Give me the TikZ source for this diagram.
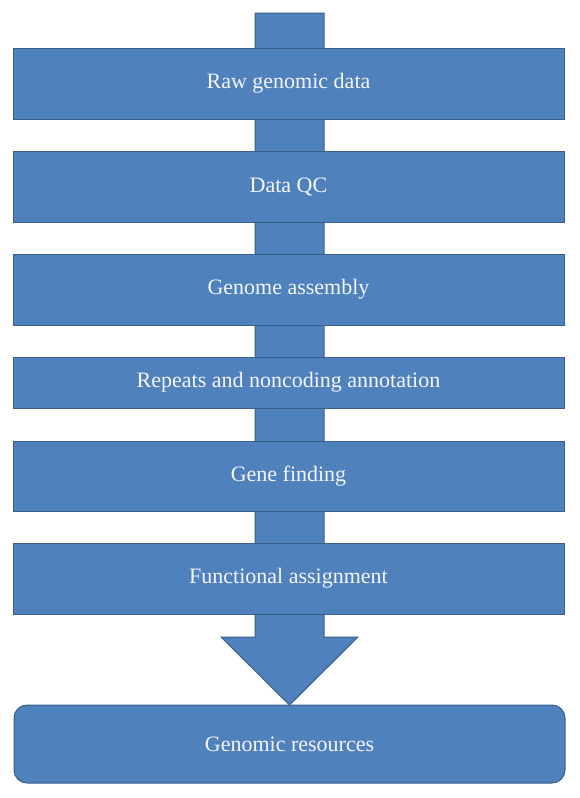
\documentclass[tikz,border=0pt]{standalone}
\usepackage{fontspec}
\setmainfont{Liberation Serif}
\definecolor{boxfill}{HTML}{4F81BD}
\definecolor{boxedge}{HTML}{3A5F8B}
\definecolor{boxtext}{HTML}{F4F6FA}
\tikzset{
  stage/.style={draw=boxedge, fill=boxfill, line width=1pt, rectangle,
    minimum width=551pt, inner sep=0pt, outer sep=0pt,
    text=boxtext, font=\fontsize{22}{26}\selectfont},
  bigarrow/.style={draw=boxedge, fill=boxfill, line width=1pt, line join=miter}
}
\begin{document}
\begin{tikzpicture}[x=1pt,y=-1pt]
\useasboundingbox (0,0) rectangle (579,798);
\node[stage, rounded corners=13pt, minimum height=78pt] (res) at (289.5,744) {Genomic resources};
\coordinate (top) at (289.5,13);
\draw[bigarrow] ([xshift=-34.5pt]top) -- ([xshift=34.5pt]top) -- (324,637) -- (358,637)
  -- (res.north) -- (221,637) -- (255,637) -- cycle;
\node[stage, minimum height=71pt] (raw) at (288.5,83.5) {Raw genomic data};
\node[stage, minimum height=71pt] (qc) at (288.5,186.5) {Data QC};
\node[stage, minimum height=71pt] (asm) at (288.5,289.5) {Genome assembly};
\node[stage, minimum height=51pt] (rep) at (288.5,382.5) {Repeats and noncoding annotation};
\node[stage, minimum height=70pt] (gene) at (288.5,476) {Gene finding};
\node[stage, minimum height=71pt] (func) at (288.5,578.5) {Functional assignment};
\end{tikzpicture}
\end{document}
